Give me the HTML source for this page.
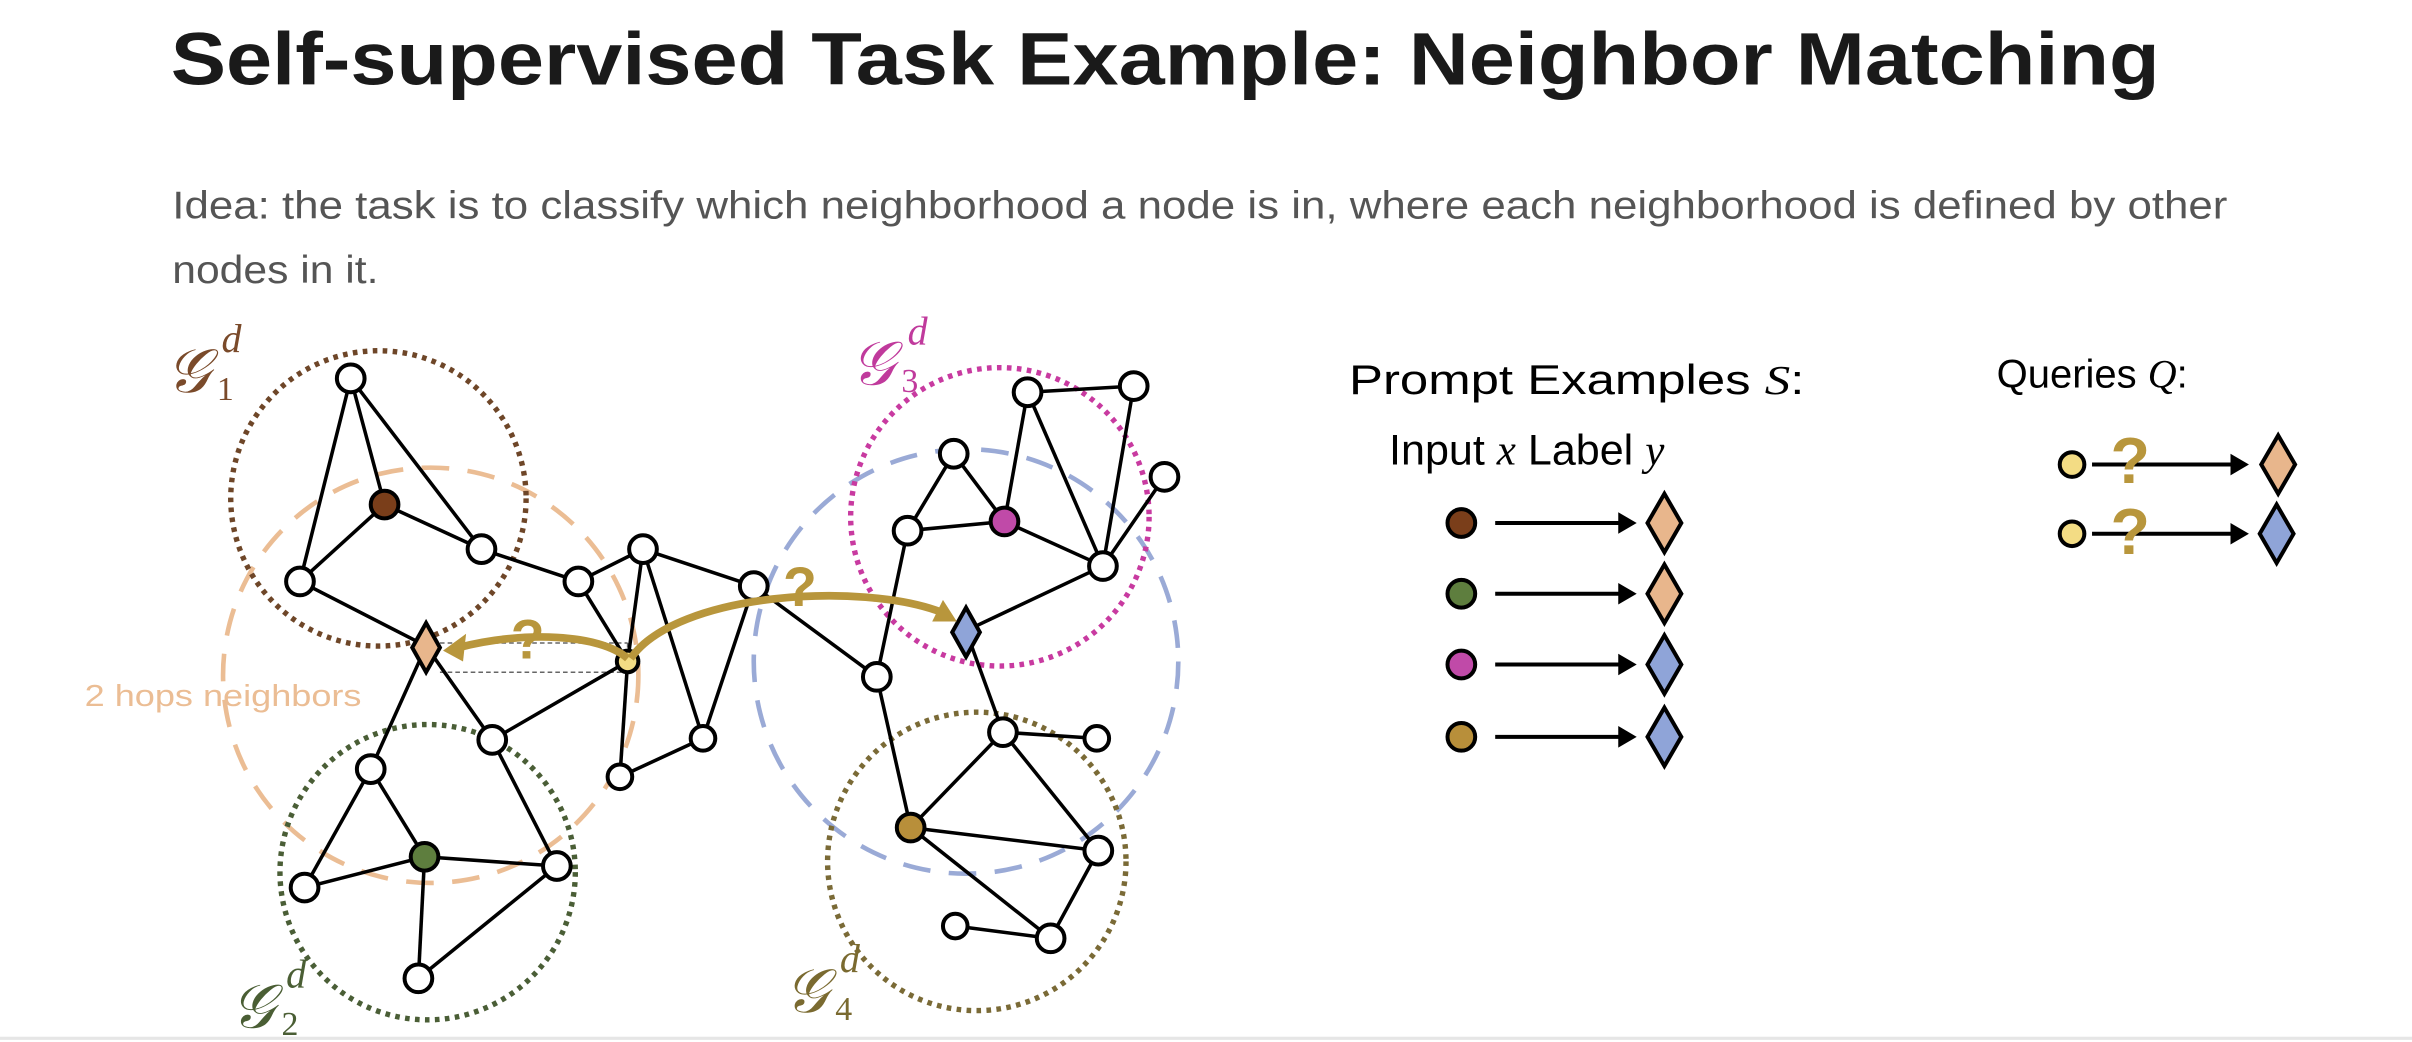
<!DOCTYPE html>
<html><head><meta charset="utf-8"><style>
html,body{margin:0;padding:0;background:#fff;width:2412px;height:1042px;overflow:hidden}
svg{display:block}
</style></head><body>
<svg width="2412" height="1042" viewBox="0 0 1568 677.4" preserveAspectRatio="none" xmlns="http://www.w3.org/2000/svg">
<text x="111" y="55" font-family="Liberation Sans, sans-serif" font-weight="bold" font-size="48" fill="#1a1a1a" textLength="1293" lengthAdjust="spacingAndGlyphs">Self-supervised Task Example: Neighbor Matching</text>
<text x="112" y="142" font-family="Liberation Sans, sans-serif" font-size="25" fill="#555" textLength="1336" lengthAdjust="spacingAndGlyphs">Idea: the task is to classify which neighborhood a node is in, where each neighborhood is defined by other</text>
<text x="112" y="184" font-family="Liberation Sans, sans-serif" font-size="25" fill="#555" textLength="134" lengthAdjust="spacingAndGlyphs">nodes in it.</text>

<circle cx="280" cy="439" r="135" fill="none" stroke="#ebbd94" stroke-width="3" stroke-dasharray="18 12"/>
<circle cx="628" cy="430" r="138" fill="none" stroke="#9aaad6" stroke-width="3" stroke-dasharray="18 12"/>
<g fill="none" stroke-width="3.5" stroke-dasharray="3 3.5">
<circle cx="246" cy="324" r="96" stroke="#6e4628"/>
<circle cx="650" cy="336" r="97" stroke="#c83aa0"/>
<circle cx="278" cy="567" r="96" stroke="#4a5e36"/>
<circle cx="635" cy="560" r="97" stroke="#7a6a36"/>
</g>

<g stroke="#666" stroke-width="1" stroke-dasharray="3 2">
<line x1="286" y1="418" x2="408" y2="418"/><line x1="286" y1="437" x2="408" y2="437"/><line x1="408" y1="418" x2="408" y2="437"/>
</g>

<g stroke="#000" stroke-width="2.3">
<line x1="228" y1="246" x2="250" y2="328"/><line x1="228" y1="246" x2="195" y2="378"/><line x1="228" y1="246" x2="313" y2="357"/>
<line x1="250" y1="328" x2="195" y2="378"/><line x1="250" y1="328" x2="313" y2="357"/><line x1="313" y1="357" x2="376" y2="378"/>
<line x1="195" y1="378" x2="277" y2="420"/><line x1="277" y1="420" x2="241" y2="500"/><line x1="277" y1="420" x2="320" y2="481"/>
<line x1="376" y1="378" x2="418" y2="357"/><line x1="376" y1="378" x2="408" y2="430"/><line x1="418" y1="357" x2="408" y2="430"/>
<line x1="418" y1="357" x2="457" y2="480"/><line x1="418" y1="357" x2="490" y2="381"/><line x1="490" y1="381" x2="457" y2="480"/>
<line x1="408" y1="430" x2="320" y2="481"/><line x1="408" y1="430" x2="403" y2="505"/><line x1="403" y1="505" x2="457" y2="480"/>
<line x1="490" y1="381" x2="570" y2="440"/><line x1="320" y1="481" x2="362" y2="563"/>
<line x1="241" y1="500" x2="276" y2="557"/><line x1="241" y1="500" x2="198" y2="577"/><line x1="276" y1="557" x2="198" y2="577"/>
<line x1="276" y1="557" x2="362" y2="563"/><line x1="276" y1="557" x2="272" y2="636"/><line x1="362" y1="563" x2="272" y2="636"/>
<line x1="668" y1="255" x2="737" y2="251"/><line x1="668" y1="255" x2="653" y2="339"/><line x1="668" y1="255" x2="717" y2="368"/>
<line x1="737" y1="251" x2="717" y2="368"/><line x1="757" y1="310" x2="717" y2="368"/><line x1="620" y1="295" x2="590" y2="345"/>
<line x1="620" y1="295" x2="653" y2="339"/><line x1="590" y1="345" x2="653" y2="339"/><line x1="653" y1="339" x2="717" y2="368"/>
<line x1="717" y1="368" x2="628" y2="410"/><line x1="590" y1="345" x2="570" y2="440"/><line x1="628" y1="410" x2="652" y2="476"/>
<line x1="570" y1="440" x2="592" y2="538"/><line x1="652" y1="476" x2="713" y2="480"/><line x1="652" y1="476" x2="592" y2="538"/>
<line x1="652" y1="476" x2="714" y2="553"/><line x1="592" y1="538" x2="714" y2="553"/><line x1="592" y1="538" x2="683" y2="610"/>
<line x1="714" y1="553" x2="683" y2="610"/><line x1="621" y1="602" x2="683" y2="610"/>
</g>

<g stroke="#000" stroke-width="2.6" fill="#fff">
<circle cx="228" cy="246" r="9"/><circle cx="313" cy="357" r="9"/><circle cx="195" cy="378" r="9"/>
<circle cx="376" cy="378" r="9"/><circle cx="418" cy="357" r="9"/><circle cx="490" cy="381" r="9"/>
<circle cx="457" cy="480" r="8"/><circle cx="320" cy="481" r="9"/><circle cx="241" cy="500" r="9"/>
<circle cx="403" cy="505" r="8"/><circle cx="198" cy="577" r="9"/><circle cx="362" cy="563" r="9"/>
<circle cx="272" cy="636" r="9"/><circle cx="620" cy="295" r="9"/><circle cx="668" cy="255" r="9"/>
<circle cx="737" cy="251" r="9"/><circle cx="757" cy="310" r="9"/><circle cx="590" cy="345" r="9"/>
<circle cx="717" cy="368" r="9"/><circle cx="570" cy="440" r="9"/><circle cx="652" cy="476" r="9"/>
<circle cx="713" cy="480" r="8"/><circle cx="714" cy="553" r="9"/><circle cx="621" cy="602" r="8"/>
<circle cx="683" cy="610" r="9"/>
<circle cx="250" cy="328" r="9" fill="#7a3e1a"/><circle cx="276" cy="557" r="9" fill="#5e7e3e"/>
<circle cx="653" cy="339" r="9" fill="#c04aa8"/><circle cx="592" cy="538" r="9" fill="#b88f3a"/>
<circle cx="408" cy="430" r="7" fill="#f3dc84"/>
<path d="M277,405 L286,421 L277,437 L268,421 Z" fill="#e8b68c"/>
<path d="M628,395 L637,411 L628,427 L619,411 Z" fill="#8fa4d8"/>
</g>

<g fill="none" stroke="#b8963c" stroke-width="5">
<path d="M408,428 C390,412 340,410 298,421"/>
<path d="M410,428 C440,385 560,378 612,398"/>
</g>
<path d="M288,423 L303,412 L301,430 Z" fill="#b8963c"/>
<path d="M622,404 L606,404 L613,390 Z" fill="#b8963c"/>
<g font-family="Liberation Sans, sans-serif" font-weight="bold" font-size="36" fill="#b8963c">
<text x="332" y="428">?</text><text x="509" y="394">?</text>
</g>

<text x="55" y="459" font-family="Liberation Sans, sans-serif" font-size="20" fill="#ebbd94" textLength="180" lengthAdjust="spacingAndGlyphs">2 hops neighbors</text>

<g font-family="Liberation Serif, serif" font-style="italic">
<text x="108" y="255" font-size="40" fill="#7a4a2a">𝒢</text><text x="141" y="260" font-size="22" fill="#7a4a2a" font-style="normal">1</text><text x="144" y="229" font-size="26" fill="#7a4a2a">d</text>
<text x="553" y="250" font-size="40" fill="#c03a9c">𝒢</text><text x="586" y="255" font-size="22" fill="#c03a9c" font-style="normal">3</text><text x="590" y="224" font-size="26" fill="#c03a9c">d</text>
<text x="150" y="668" font-size="40" fill="#4a5e34">𝒢</text><text x="183" y="673" font-size="22" fill="#4a5e34" font-style="normal">2</text><text x="186" y="642" font-size="26" fill="#4a5e34">d</text>
<text x="510" y="658" font-size="40" fill="#7a6a30">𝒢</text><text x="543" y="663" font-size="22" fill="#7a6a30" font-style="normal">4</text><text x="546" y="632" font-size="26" fill="#7a6a30">d</text>
</g>

<g font-family="Liberation Sans, sans-serif" fill="#000">
<text x="877" y="256" font-size="27" textLength="296" lengthAdjust="spacingAndGlyphs">Prompt Examples <tspan font-family="Liberation Serif, serif" font-style="italic">S</tspan>:</text>
<text x="903" y="302" font-size="28">Input <tspan font-family="Liberation Serif, serif" font-style="italic">x</tspan>  Label <tspan font-family="Liberation Serif, serif" font-style="italic">y</tspan></text>
<text x="1298" y="252" font-size="26">Queries <tspan font-family="Liberation Serif, serif" font-style="italic">Q</tspan>:</text>
</g>
<g stroke="#000" stroke-width="2.6">
<circle cx="950" cy="340" r="9" fill="#7a3e1a"/><circle cx="950" cy="386" r="9" fill="#5e7e3e"/>
<circle cx="950" cy="432" r="9" fill="#c04aa8"/><circle cx="950" cy="479" r="9" fill="#b88f3a"/>
<circle cx="1347" cy="302" r="8" fill="#f3dc84"/><circle cx="1347" cy="347" r="8" fill="#f3dc84"/>
<path d="M1082,321 L1093,340 L1082,359 L1071,340 Z" fill="#e8b68c"/>
<path d="M1082,367 L1093,386 L1082,405 L1071,386 Z" fill="#e8b68c"/>
<path d="M1082,413 L1093,432 L1082,451 L1071,432 Z" fill="#8fa4d8"/>
<path d="M1082,460 L1093,479 L1082,498 L1071,479 Z" fill="#8fa4d8"/>
<path d="M1481,283 L1492,302 L1481,321 L1470,302 Z" fill="#e8b68c"/>
<path d="M1480,328 L1491,347 L1480,366 L1469,347 Z" fill="#8fa4d8"/>
<line x1="972" y1="340" x2="1058" y2="340"/><line x1="972" y1="386" x2="1058" y2="386"/>
<line x1="972" y1="432" x2="1058" y2="432"/><line x1="972" y1="479" x2="1058" y2="479"/>
<line x1="1360" y1="302" x2="1456" y2="302"/><line x1="1360" y1="347" x2="1456" y2="347"/>
</g>
<g fill="#000">
<path d="M1064,340 L1052,333 L1052,347 Z"/><path d="M1064,386 L1052,379 L1052,393 Z"/>
<path d="M1064,432 L1052,425 L1052,439 Z"/><path d="M1064,479 L1052,472 L1052,486 Z"/>
<path d="M1462,302 L1450,295 L1450,309 Z"/><path d="M1462,347 L1450,340 L1450,354 Z"/>
</g>
<g font-family="Liberation Sans, sans-serif" font-weight="bold" font-size="42" fill="#b8963c">
<text x="1372" y="314">?</text><text x="1372" y="360">?</text>
</g>
<line x1="0" y1="675" x2="1568" y2="675" stroke="#e6e6e6" stroke-width="2"/>
</svg>
</body></html>
